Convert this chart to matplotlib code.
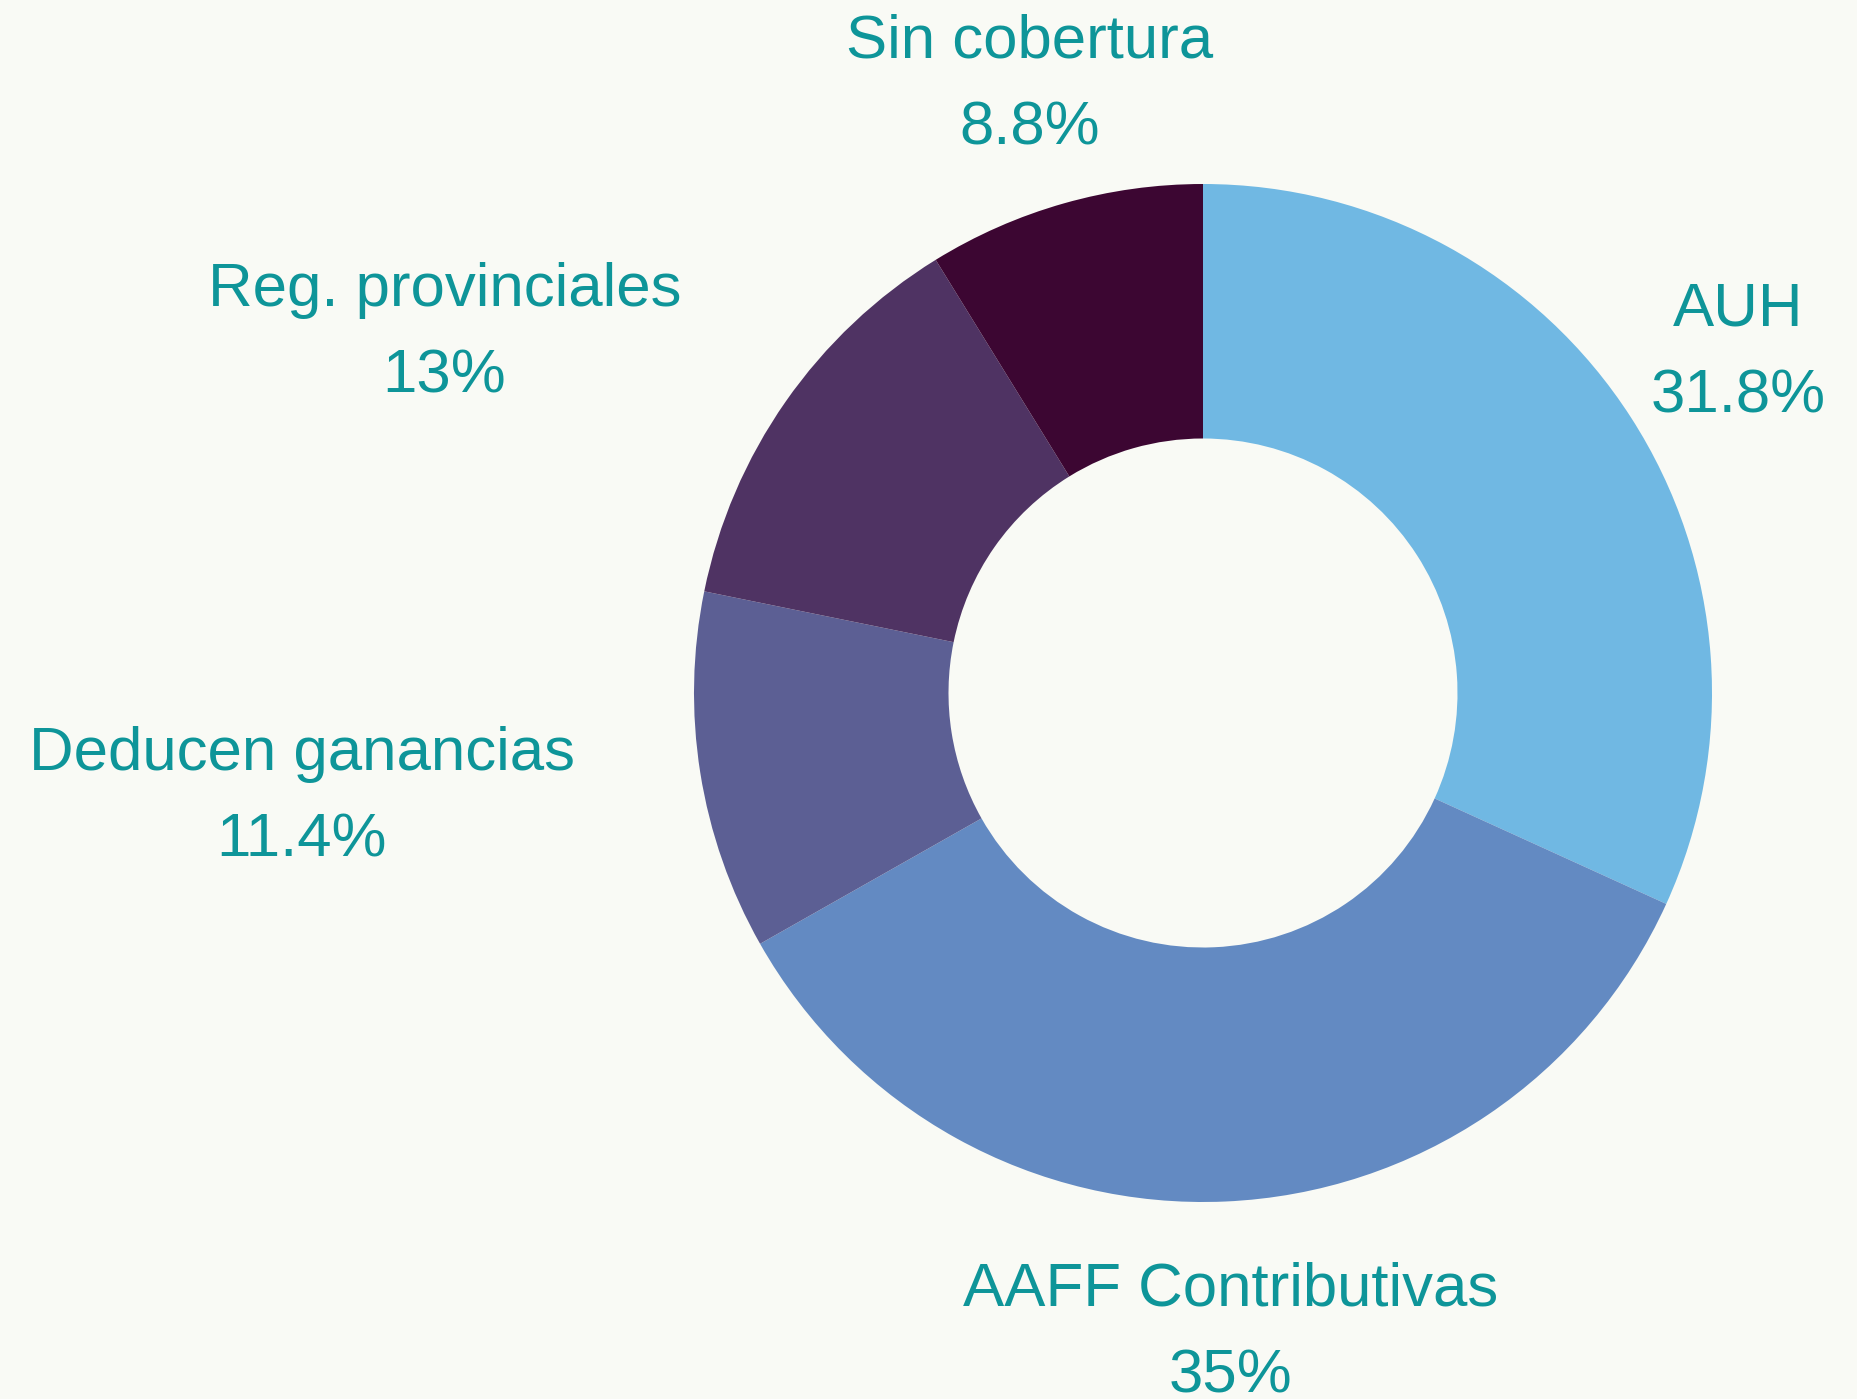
import matplotlib
matplotlib.use('Agg')
import matplotlib.pyplot as plt

plt.rcParams['font.family'] = ['Liberation Sans', 'DejaVu Sans']

# datos (en %)
categorias = ['AUH', 'AAFF Contributivas', 'Deducen ganancias', 'Reg. provinciales', 'Sin cobertura']
valores = [31.8, 35, 11.4, 13, 8.8]
colores = ['#70b8e3', '#638ac2', '#5c5f94', '#4f3363', '#3c0632']

fondo = '#f9faf5'
color_texto = '#0e9599'

W, H = 1858, 1399
cx, cy, R = 1203, 693, 509   # centro y radio en pixeles

fig = plt.figure(figsize=(W / 100, H / 100), dpi=100, facecolor=fondo)
ax = fig.add_axes([0, 0, 1, 1])
ax.set_facecolor(fondo)

etiquetas = [f'{c}\n{v:g}%' for c, v in zip(categorias, valores)]

wedges, textos = ax.pie(valores, labels=etiquetas, colors=colores, startangle=90,
                        counterclock=False, radius=1, labeldistance=1.25,
                        wedgeprops=dict(width=0.5, edgecolor='none'),
                        textprops=dict(color=color_texto, fontsize=44.5, ha='center',
                                       va='center', multialignment='center',
                                       linespacing=1.68))

# las etiquetas del lado izquierdo van alineadas a la derecha
for t in textos:
    x, y = t.get_position()
    t.set_position((x, y - 5 / R))
    if x < -0.5 * 1.25:
        t.set_horizontalalignment('right')

ax.set_xlim(-cx / R, (W - cx) / R)
ax.set_ylim(-(H - cy) / R, cy / R)
ax.set_aspect('equal')
ax.axis('off')

plt.savefig('out.png', dpi=100, facecolor=fondo)
